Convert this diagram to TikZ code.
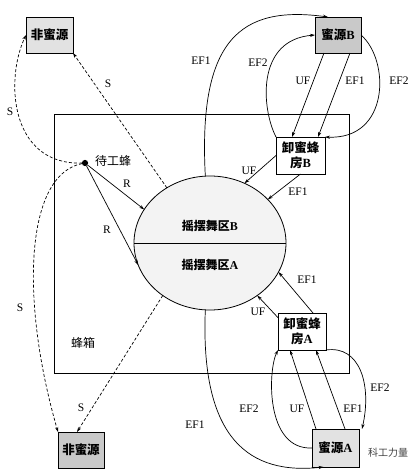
\documentclass[tikz,border=0pt]{standalone}
\usepackage{fontspec}
\setmainfont{Liberation Serif}
\newfontfamily\cjk{Noto Sans CJK SC}
\usetikzlibrary{shapes.geometric,arrows.meta,calc}
\definecolor{gA}{HTML}{E2E2E2}
\definecolor{gB}{HTML}{C9C9C9}
\definecolor{gC}{HTML}{F3F3F3}
\begin{document}
\begin{tikzpicture}[x=1pt,y=-1pt,
  every node/.style={outer sep=0pt},
  box/.style={draw,line width=0.8pt,inner sep=1pt,font=\fontsize{12.5}{14.5}\selectfont\cjk\bfseries,align=center},
  lbl/.style={font=\fontsize{11.5}{13}\selectfont,inner sep=0.5pt},
  clbl/.style={font=\fontsize{12}{14}\selectfont\cjk,inner sep=0.5pt},
  conn/.style={line width=0.7pt,-{Stealth[length=5pt,width=3.2pt]}},
  sconn/.style={conn,dash pattern=on 3pt off 2pt}]
\useasboundingbox (0,0) rectangle (419,472);
% hive
\node[draw,line width=0.8pt,minimum width=295pt,minimum height=259pt] (hive) at (201.5,243.5) {};
\node[clbl] (hivel) at (83,343) {蜂箱};
% dance zone
\node[draw,ellipse,line width=0.8pt,fill=gC,minimum width=152pt,minimum height=134pt] (dz) at (210,243) {};
\draw[line width=0.8pt] (dz.west) -- (dz.east);
\node[clbl,font=\fontsize{12}{14}\selectfont\cjk\bfseries] (dzb) at (210,226) {摇摆舞区\rmfamily B};
\node[clbl,font=\fontsize{12}{14}\selectfont\cjk\bfseries] (dza) at (210,265) {摇摆舞区\rmfamily A};
% boxes
\node[box,fill=gA,minimum width=47pt,minimum height=36pt] (n1) at (49.5,35) {非蜜源};
\node[box,fill=gB,minimum width=46pt,minimum height=36pt] (mb) at (338,35) {蜜源\rmfamily B};
\node[box,fill=white,minimum width=49pt,minimum height=37pt] (xb) at (300.5,155.5) {卸蜜蜂\\房\rmfamily B};
\node[box,fill=white,minimum width=48pt,minimum height=37pt] (xa) at (302,331.5) {卸蜜蜂\\房\rmfamily A};
\node[box,fill=gA,minimum width=47pt,minimum height=38pt] (ma) at (335.5,448) {蜜源\rmfamily A};
\node[box,fill=gB,minimum width=46pt,minimum height=36pt] (n2) at (81,450) {非蜜源};
% waiting bees
\node[circle,fill,inner sep=2.2pt] (w) at (85,163) {};
\node[clbl] (wl) at (113,161) {待工蜂};
% S connectors
\draw[sconn] (dz.128) -- (n1.south east);
\draw[sconn] (dz.228) -- ([xshift=-4pt]n2.north);
\draw[sconn] (w) .. controls (10,165) and (5,80) .. (n1.west);
\draw[sconn] (w) .. controls (25,175) and (20,300) .. (n2.north west);
% R connectors
\draw[conn] (w) -- (dz.153);
\draw[conn] (w) -- (dz.197);
% B side
\draw[conn] (xb.west) -- (dz.60);
\draw[conn] (xb.south) -- (dz.37);
\draw[conn] ([xshift=-14pt]mb.south) -- ([xshift=-8.5pt]xb.north);
\draw[conn] ([xshift=12pt]mb.south) -- ([xshift=17.5pt]xb.north);
\draw[conn] (xb.north west) .. controls (262,110) and (255,40) .. (mb.west);
\draw[conn] (mb.east) .. controls (390,60) and (390,140) .. (xb.north east);
\draw[conn] (dz.94) .. controls (198,40) and (240,5) .. ([xshift=-10pt]mb.north);
% A side
\draw[conn] (xa.150) -- (dz.312);
\draw[conn] ([xshift=11pt]xa.north) -- (dz.337);
\draw[conn] ([xshift=-19.5pt]ma.north) -- ([xshift=-12pt]xa.south);
\draw[conn] ([xshift=9.5pt]ma.north) -- ([xshift=14pt]xa.south);
\draw[conn] (ma.west) .. controls (265,450) and (268,370) .. (xa.south west);
\draw[conn] (xa.south east) .. controls (360,345) and (372,385) .. ([xshift=3pt]ma.north east);
\draw[conn] (dz.266) .. controls (200,440) and (250,475) .. ([xshift=-12pt]ma.south);
% labels
\node[lbl] (s1) at (108,84) {S};
\node[lbl] (s2) at (10,112) {S};
\node[lbl] (s3) at (20,308) {S};
\node[lbl] (s4) at (81,408) {S};
\node[lbl] (r1) at (127,184) {R};
\node[lbl] (r2) at (107,230) {R};
\node[lbl] (l1) at (201,61) {EF1};
\node[lbl] (l2) at (258,63) {EF2};
\node[lbl] (l3) at (303,81) {UF};
\node[lbl] (l4) at (355,81) {EF1};
\node[lbl] (l5) at (399,81) {EF2};
\node[lbl] (l6) at (249,171) {UF};
\node[lbl] (l7) at (298,192) {EF1};
\node[lbl] (l8) at (307,280) {EF1};
\node[lbl] (l9) at (258,312) {UF};
\node[lbl] (l10) at (380,388) {EF2};
\node[lbl] (l11) at (249,409) {EF2};
\node[lbl] (l12) at (297,409) {UF};
\node[lbl] (l13) at (353,409) {EF1};
\node[lbl] (l14) at (195,425) {EF1};
\node[font=\fontsize{10}{12}\selectfont\cjk,text=black!75] (wm) at (388,453) {科工力量};
\end{tikzpicture}
\end{document}
